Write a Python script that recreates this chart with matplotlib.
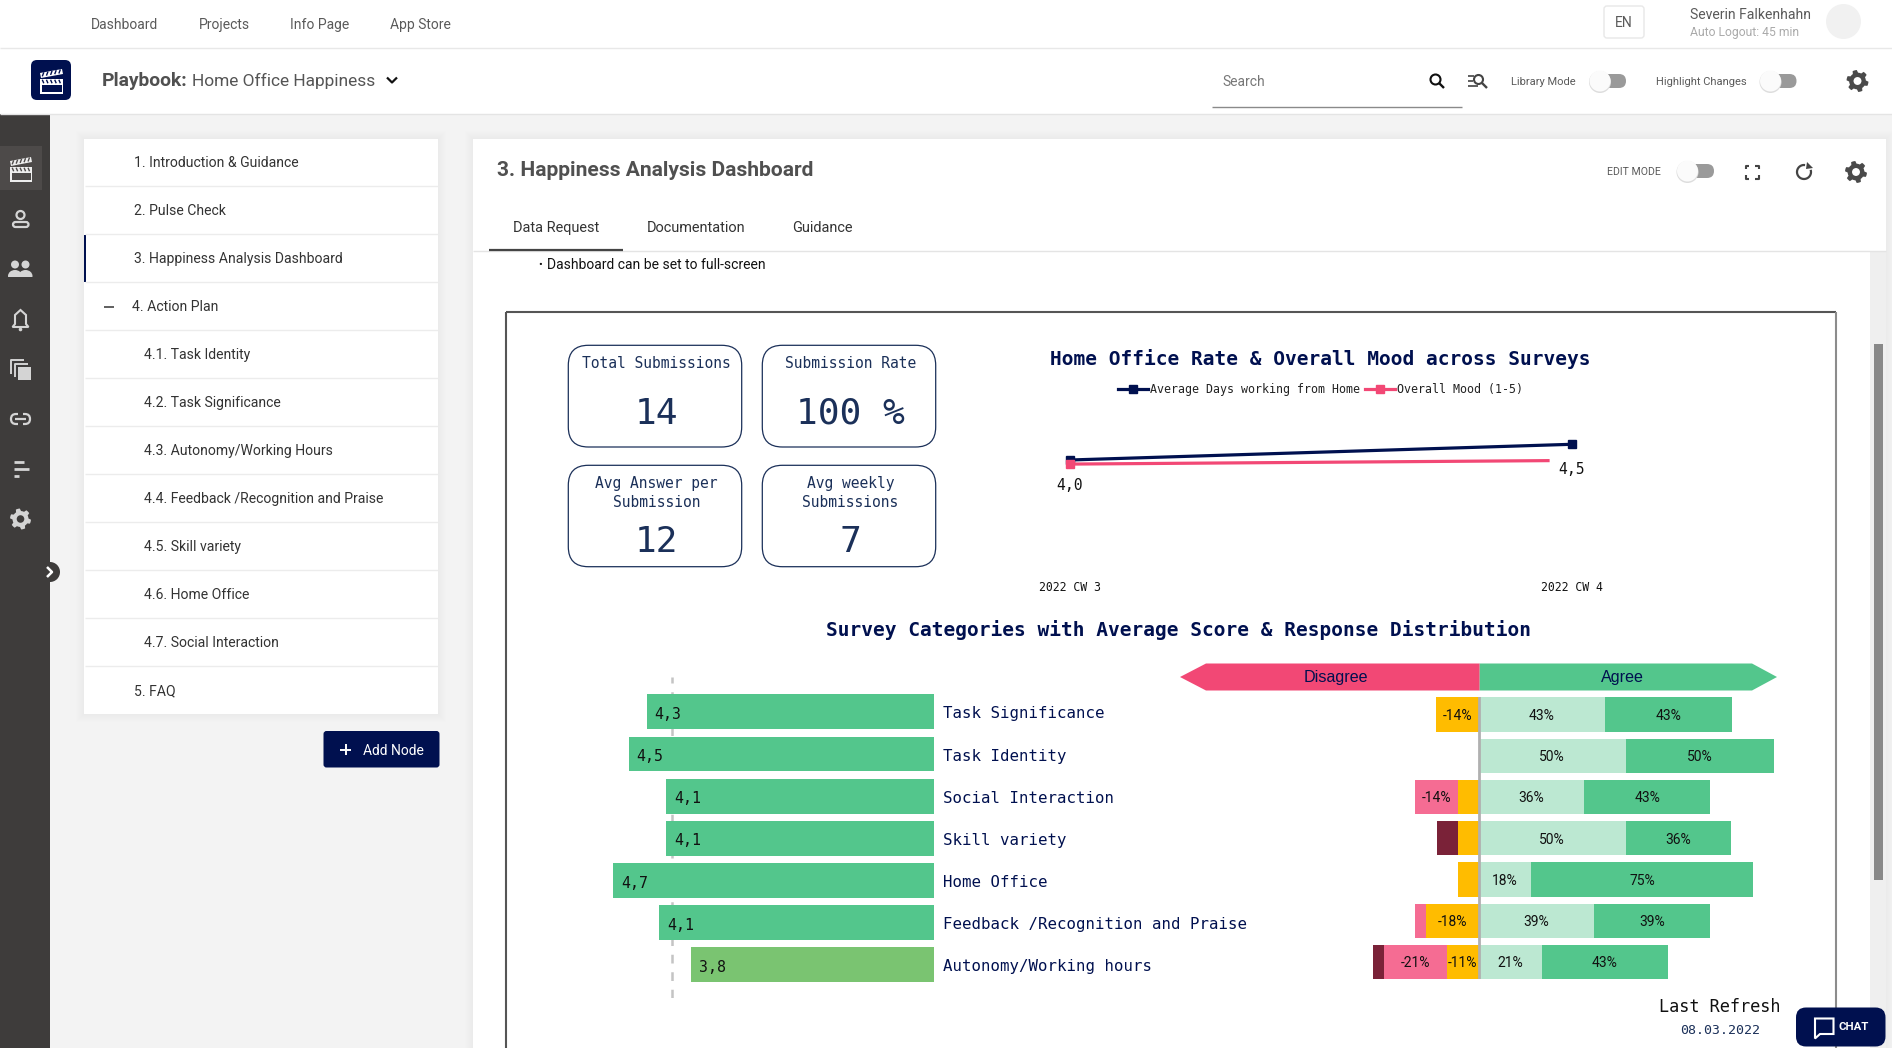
# Home office happiness dashboard, screenshot rebuilt with matplotlib

import numpy as np
import matplotlib
matplotlib.use('Agg')
import matplotlib.pyplot as plt
from matplotlib.patches import Circle, Ellipse, FancyBboxPatch, Polygon, Rectangle
from matplotlib.transforms import ScaledTranslation

# data
nav_items = ['Dashboard', 'Projects', 'Info Page', 'App Store']
tree_items = ['1. Introduction & Guidance', '2. Pulse Check', '3. Happiness Analysis Dashboard',
              '4. Action Plan', '4.1. Task Identity', '4.2. Task Significance',
              '4.3. Autonomy/Working Hours', '4.4. Feedback /Recognition and Praise',
              '4.5. Skill variety', '4.6. Home Office', '4.7. Social Interaction', '5. FAQ']
tab_names = ['Data Request', 'Documentation', 'Guidance']

kpi_titles = ['Total Submissions', 'Submission Rate', 'Avg Answer per\nSubmission', 'Avg weekly\nSubmissions']
kpi_values = ['14', '100 %', '12', '7']

surveys = ['2022 CW 3', '2022 CW 4']
home_x = [0, 1]
home_days = [4.0, 4.5]
home_labels = ['4,0', '4,5']
mood_x = [0, 0.953]
mood_score = [3.87, 3.98]

categories = ['Task Significance', 'Task Identity', 'Social Interaction', 'Skill variety',
              'Home Office', 'Feedback /Recognition and Praise', 'Autonomy/Working hours']
avg_score = [4.31, 4.52, 4.09, 4.09, 4.70, 4.17, 3.80]
avg_labels = ['4,3', '4,5', '4,1', '4,1', '4,7', '4,1', '3,8']
score_target = 4.02

strong_disagree = [0, 0, 0, 7.1, 0, 0, 3.6]
disagree = [0, 0, 14.3, 0, 0, 3.6, 21.4]
neutral = [14.3, 0, 7.1, 7.1, 7.1, 17.9, 10.7]
agree = [42.9, 50, 35.7, 50, 17.9, 39.3, 21.4]
strong_agree = [42.9, 50, 42.9, 35.7, 75, 39.3, 42.9]

# colours
navy = '#00104f'
kpi_navy = '#1b3059'
pink = '#f24875'
green = '#53c68c'
light_green = '#bce8d2'
lime = '#7ac471'
yellow = '#ffbc00'
soft_pink = '#f56c93'
dark_red = '#7a2238'
side_dark = '#3e3c3b'
side_icon = '#d4d4d4'
grey_text = '#5a5a5a'
mono = 'DejaVu Sans Mono'

plt.rcParams['font.family'] = ['Roboto', 'DejaVu Sans']

W = 1892
H = 1048
fig = plt.figure(figsize=(W / 100, H / 100), dpi=100, facecolor='white')

# one axes in screen pixels for everything around the charts
ui = fig.add_axes([0, 0, 1, 1], zorder=0)
ui.set_xlim(0, W)
ui.set_ylim(H, 0)
ui.axis('off')


def px_axes(left, top, right, bottom):
    ax = fig.add_axes([left / W, 1 - bottom / H, (right - left) / W, (bottom - top) / H], zorder=1)
    ax.patch.set_visible(False)
    return ax


def label(x, y, s, size=10, color='#333333', ha='left', **kw):
    ui.text(x, y + 1.2, s, fontsize=size, color=color, ha=ha, va='center', **kw)


def rrect(x0, y0, x1, y1, r=0, **kw):
    kw.setdefault('linewidth', 0)
    ui.add_patch(FancyBboxPatch((x0, y0), x1 - x0, y1 - y0,
                                boxstyle='round,pad=0,rounding_size={0}'.format(r), **kw))


def shadow(x0, y0, x1, y1):
    for i in range(8, 0, -1):
        ui.add_patch(Rectangle((x0 - i, y0 - i), x1 - x0 + 2 * i, y1 - y0 + 2 * i,
                               facecolor='black', alpha=0.0045, linewidth=0))


def line(xs, ys, color, lw=1.0, **kw):
    ui.plot(xs, ys, color=color, linewidth=lw, solid_capstyle=kw.pop('cap', 'butt'), **kw)


def gear(x, y, r, color, hole):
    ang = np.linspace(0, 2 * np.pi, 48, endpoint=False) + np.pi / 48
    rad = np.where((np.arange(48) % 8) < 4, r, r * 0.76)
    ui.add_patch(Polygon(np.c_[x + rad * np.cos(ang), y + rad * np.sin(ang)], facecolor=color, linewidth=0))
    ui.add_patch(Circle((x, y), r * 0.36, facecolor=hole, linewidth=0))


def toggle(thumb_x, track_end, y):
    rrect(thumb_x, y - 7, track_end, y + 7, 7, facecolor='#9a9a9a')
    ui.add_patch(Circle((thumb_x, y + 1), 11, facecolor='#dddddd', linewidth=0))
    ui.add_patch(Circle((thumb_x, y), 10.5, facecolor='#fbfbfb', linewidth=0))


def clapper(x0, y0, x1, y1, color, back):
    h = y1 - y0
    ui.add_patch(Polygon([[x0, y0 + h * 0.16], [x1 - 1, y0], [x1, y0 + h * 0.2], [x0 + 1, y0 + h * 0.36]],
                         facecolor=color, linewidth=0))
    ui.add_patch(Rectangle((x0, y0 + h * 0.4), x1 - x0, h * 0.6, facecolor=color, linewidth=0))
    ui.add_patch(Rectangle((x0 + 1.5, y0 + h * 0.62), x1 - x0 - 3, h * 0.3, facecolor=back, linewidth=0))
    for k in np.arange(0.1, 0.95, 0.18):
        xk = x0 + k * (x1 - x0)
        line([xk, xk + 1.5], [y0 + h * 0.43, y0 + h * 0.57], back, 1.0)
        line([xk, xk + 1.5], [y0 + h * 0.31 - k * h * 0.16, y0 + h * 0.15 - k * h * 0.16], back, 1.0)


def search_icon(x, y, color, r=5):
    ui.add_patch(Circle((x - 1.5, y - 1.5), r, facecolor='none', edgecolor=color, linewidth=1.5))
    line([x + 2, x + 7], [y + 2, y + 7], color, 1.7)


# page background
ui.add_patch(Rectangle((50, 114), W - 50, H - 114, facecolor='#f3f3f3', linewidth=0))
line([0, W], [47.5, 47.5], '#e8e8e8', 1.0)
line([0, W], [113.5, 113.5], '#e4e4e4', 1.0)

# top navigation
for x, s in zip([91.3, 199, 290, 390], nav_items):
    label(x, 24, s, 10, grey_text)
rrect(1604, 6, 1644, 38, 3, facecolor='white', edgecolor='#e8e8e8', linewidth=1)
label(1624, 21.5, 'EN', 10, grey_text, ha='center')
label(1689.5, 13.5, 'Severin Falkenhahn', 10.05, grey_text)
label(1689.5, 31, 'Auto Logout: 45 min', 8.7, '#aaaaaa')
ui.add_patch(Circle((1843.5, 21.5), 17.5, facecolor='#f1f1f1', linewidth=0))

# playbook bar
rrect(31, 60, 71, 100, 6, facecolor=navy)
clapper(40, 69, 63, 94, 'white', navy)
label(101.3, 79.5, 'Playbook:', 13.9, '#505050', fontweight='bold')
label(192, 79.5, 'Home Office Happiness', 12.5, '#555555')
line([387, 392, 397], [77.5, 82.5, 77.5], '#111111', 1.6)
label(1222, 81, 'Search', 10, '#777777')
line([1212, 1462], [106.5, 106.5], '#8a8a8a', 1.0)
search_icon(1437, 81, '#111111')
search_icon(1480, 81, '#444444', 4.5)
for yy, x1 in zip([76, 81, 86], [1474, 1473, 1478]):
    line([1468, x1], [yy, yy], '#444444', 1.2)
label(1511, 81, 'Library Mode', 8, grey_text)
toggle(1600, 1626, 81)
label(1656, 81, 'Highlight Changes', 8, grey_text)
toggle(1770.5, 1796.5, 81)
gear(1857.5, 81, 11, '#4a4a4a', 'white')

# sidebar
ui.add_patch(Rectangle((0, 114), 50, H - 114, facecolor=side_dark, linewidth=0))
ui.add_patch(Rectangle((0, 146), 42, 44, facecolor='#4d4a49', linewidth=0))
clapper(10, 157, 32, 182, '#eeeeee', '#4d4a49')
# person
ui.add_patch(Circle((20.5, 215), 4, facecolor='none', edgecolor=side_icon, linewidth=1.6))
rrect(13, 222, 28.5, 227, 2.5, facecolor='none', edgecolor=side_icon, linewidth=1.6)
# group
for xc in [15, 25.5]:
    ui.add_patch(Circle((xc, 264.5), 4, facecolor=side_icon, linewidth=0))
    ui.add_patch(Ellipse((xc, 276), 14, 12, facecolor=side_icon, linewidth=0))
ui.add_patch(Rectangle((5, 276.5), 30, 8, facecolor=side_dark, linewidth=0))
# bell
ui.add_patch(Polygon([[20.5, 310], [26, 315], [26, 324], [28.5, 327], [12.5, 327], [15, 324], [15, 315]],
                     facecolor='none', edgecolor=side_icon, linewidth=1.5))
ui.add_patch(Circle((20.5, 329.5), 1.8, facecolor=side_icon, linewidth=0))
# copy
line([11, 11, 24], [374, 360, 360], side_icon, 1.4)
line([14.5, 14.5, 28], [377, 363.5, 363.5], side_icon, 1.4)
ui.add_patch(Rectangle((18, 367), 13, 13, facecolor=side_icon, linewidth=0))
# link
rrect(11, 414, 30, 424, 5, facecolor='none', edgecolor=side_icon, linewidth=1.6)
line([15, 26], [419, 419], side_icon, 1.6)
ui.add_patch(Rectangle((18, 412), 5, 4, facecolor=side_dark, linewidth=0))
ui.add_patch(Rectangle((18, 422), 5, 4, facecolor=side_dark, linewidth=0))
# sort lines
for yy, x1 in zip([462, 469, 476], [24, 29, 19]):
    line([14, x1], [yy, yy], side_icon, 2.0)
gear(20.5, 519, 10.5, side_icon, side_dark)
ui.add_patch(Circle((50, 572), 10, facecolor=side_dark, linewidth=0))
line([47, 52, 47], [567, 572, 577], 'white', 1.8)

# tree card
shadow(84, 139, 438, 714)
ui.add_patch(Rectangle((84, 139), 354, 575, facecolor='white', linewidth=0))
for i, s in enumerate(tree_items):
    yc = 162 + 48 * i
    if s.startswith('4.') and s[2] != ' ':
        xt = 143.6
    elif s.startswith('4.'):
        xt = 132.3
    else:
        xt = 134.3
    label(xt, yc, s, 10.08, '#333333')
    if i < len(tree_items) - 1:
        line([85, 438], [yc + 24, yc + 24], '#ececec', 1.0)
ui.add_patch(Rectangle((84, 235), 2.2, 47, facecolor=navy, linewidth=0))
line([104, 114], [307, 307], '#444444', 1.2)

# add node button
rrect(323.5, 731, 439.5, 767.5, 3, facecolor=navy)
line([340, 351], [749.5, 749.5], 'white', 1.4)
line([345.5, 345.5], [744, 755], 'white', 1.4)
label(393, 749.5, 'Add Node', 10, 'white', ha='center')

# main panel
shadow(473, 139, 1886, H + 20)
ui.add_patch(Rectangle((473, 139), 1413, H - 139, facecolor='white', linewidth=0))
ui.add_patch(Rectangle((1870, 252), 16, H - 252, facecolor='#efefef', linewidth=0))
ui.add_patch(Rectangle((1874, 344), 9, 536, facecolor='#888888', linewidth=0))
line([473, 1886], [251, 251], '#e4e4e4', 1.0)
label(497, 169, '3. Happiness Analysis Dashboard', 15.1, '#505050', fontweight='bold')
for x, s in zip([513, 646.7, 792], tab_names):
    label(x, 227, s, 10.45, '#333333')
line([489, 622.5], [249.8, 249.8], '#444444', 1.6)
label(1607, 171, 'EDIT MODE', 7.6, grey_text)
toggle(1687.5, 1714, 171)
for sx, sy in [(-1, -1), (1, -1), (-1, 1), (1, 1)]:
    line([1752 + sx * 6.5, 1752 + sx * 6.5, 1752 + sx * 3], [172 + sy * 3, 172 + sy * 6.5, 172 + sy * 6.5],
         '#444444', 1.5)
theta = np.linspace(-0.1 * np.pi, 1.55 * np.pi, 40)
line(1804 + 7 * np.cos(theta), 172 + 7 * np.sin(theta), '#444444', 1.6)
ui.add_patch(Polygon([[1807, 162], [1813, 168], [1806, 169]], facecolor='#444444', linewidth=0))
gear(1856, 172, 11, '#4a4a4a', 'white')
label(538, 264, '\u2022', 8, '#111111')
label(546.6, 264, 'Dashboard can be set to full-screen', 10, '#111111')

# dashboard frame
line([506, 506], [H, 312], '#555555', 1.5)
line([506, 1835.6], [312, 312], '#555555', 1.5)
line([1835.6, 1835.6], [312, H], '#8c8c8c', 1.5)

# KPI tiles
tile_x = [(568.3, 741.7), (762.3, 935.7), (568.3, 741.7), (762.3, 935.7)]
tile_y = [(345.3, 447), (345.3, 447), (465.3, 566.7), (465.3, 566.7)]
for (x0, x1), (y0, y1), title, value in zip(tile_x, tile_y, kpi_titles, kpi_values):
    rrect(x0, y0, x1, y1, 20, facecolor='white', edgecolor=kpi_navy, linewidth=0.9)
    xc = (x0 + x1) / 2 + 1.5
    if '\n' in title:
        top, bottom = title.split('\n')
        label(xc, y0 + 17, top, 10.5, kpi_navy, ha='center', family=mono)
        label(xc, y0 + 36, bottom, 10.5, kpi_navy, ha='center', family=mono)
        label(xc, y0 + 76, value, 26, kpi_navy, ha='center', family=mono)
    else:
        label(xc, y0 + 17, title, 10.5, kpi_navy, ha='center', family=mono)
        label(xc, y0 + 67, value, 26, kpi_navy, ha='center', family=mono)

# line chart
ax_line = px_axes(1020, 428.6, 1620, 554.2)
ax_line.plot(home_x, home_days, color=navy, lw=2.3, marker='s', ms=6, label='Average Days working from Home')
ax_line.plot(mood_x, mood_score, color=pink, lw=2.3, marker='s', ms=6, markevery=[0], label='Overall Mood (1-5)')
ax_line.set_xlim((1020 - 1069.9) / 501.7, (1620 - 1069.9) / 501.7)
ax_line.set_ylim(1, 5)
ax_line.set_yticks([])
ax_line.set_xticks(home_x)
ax_line.set_xticklabels(surveys, family=mono, fontsize=8.3, color='#111111')
ax_line.tick_params(axis='x', length=0, pad=19.2)
for spine in ax_line.spines.values():
    spine.set_visible(False)
for x, y, s in zip(home_x, home_days, home_labels):
    ax_line.annotate(s, (x, y), xytext=(0, -18), textcoords='offset points', ha='center', va='center',
                     family=mono, fontsize=10.6, color='#111111')
ax_line.legend(loc='center', bbox_to_anchor=(1320.5 / W, 1 - 390 / H), bbox_transform=fig.transFigure,
               ncol=2, frameon=False, numpoints=1, borderpad=0, borderaxespad=0,
               handlelength=2.55, handletextpad=0.17, columnspacing=0.48,
               prop={'family': mono, 'size': 8.35}, labelcolor='#222222')
label(1320.7, 358, 'Home Office Rate & Overall Mood across Surveys', 14, navy, ha='center',
      family=mono, fontweight='bold')

# survey categories
label(1178, 628.6, 'Survey Categories with Average Score & Response Distribution', 14, navy, ha='center',
      family=mono, fontweight='bold')
ui.add_patch(Polygon([[1180, 677], [1206, 663.5], [1479.7, 663.5], [1479.7, 690.5], [1206, 690.5]],
                     facecolor=pink, linewidth=0))
ui.add_patch(Polygon([[1479.7, 663.5], [1752, 663.5], [1777, 677], [1752, 690.5], [1479.7, 690.5]],
                     facecolor=green, linewidth=0))
label(1335.7, 676.5, 'Disagree', 11.6, navy, ha='center', family='Liberation Sans')
label(1622.6, 676.5, 'Agree', 11.6, navy, ha='center', family='Liberation Sans')

# average score bars, scale runs from 1 to 5 towards the left
ax_score = px_axes(600, 677, 933.9, 998)
rows = np.arange(len(categories))
ax_score.axvline(score_target, color='#c4c4c4', lw=1.8, ls=(0, (3.5, 3.5)), zorder=1)
ax_score.barh(rows, np.array(avg_score) - 1, left=1, height=0.83,
              color=[green if v >= 4 else lime for v in avg_score], zorder=2)
ax_score.set_xlim(1 + 333.9 / 86.7, 1)
ax_score.set_ylim((998 - 711.9) / 42.1, (677 - 711.9) / 42.1)
ax_score.set_xticks([])
ax_score.yaxis.tick_right()
ax_score.set_yticks(rows)
ax_score.set_yticklabels(categories, family=mono, fontsize=11.3, color=navy)
ax_score.tick_params(axis='y', length=0, pad=6.8)
nudge = ScaledTranslation(0, -0.6 / 100, fig.dpi_scale_trans)
for tick_text in ax_score.get_yticklabels():
    tick_text.set_transform(tick_text.get_transform() + nudge)
for spine in ax_score.spines.values():
    spine.set_visible(False)
for i, (v, s) in enumerate(zip(avg_score, avg_labels)):
    ax_score.annotate(s, (v, i), xytext=(5.6, -2), textcoords='offset points', ha='left', va='center',
                      family=mono, fontsize=10.7, color='#111111', zorder=3)

# response distribution, diverging around zero
ax_dist = px_axes(1360, 697, 1790, 979)
rows2 = np.arange(len(categories))


def dist_labels(values, sign=''):
    return [sign + '{0:.0f}%'.format(v) if v >= 10 else '' for v in values]


neutral_arr = np.array(neutral)
disagree_arr = np.array(disagree)
strong_dis_arr = np.array(strong_disagree)
agree_arr = np.array(agree)
bar_h = 0.833
series = [
    (-neutral_arr, 0, yellow, dist_labels(neutral, '-')),
    (-disagree_arr, -neutral_arr, soft_pink, dist_labels(disagree, '-')),
    (-strong_dis_arr, -neutral_arr - disagree_arr, dark_red, dist_labels(strong_disagree, '-')),
    (agree_arr, 0, light_green, dist_labels(agree)),
    (np.array(strong_agree), agree_arr, green, dist_labels(strong_agree)),
]
for widths, lefts, colour, texts in series:
    bars = ax_dist.barh(rows2, widths, left=lefts, height=bar_h, color=colour, zorder=2)
    for t in ax_dist.bar_label(bars, labels=texts, label_type='center', fontsize=10, color='#111111'):
        t.xyann = (0, -1)
ax_dist.axvline(0, color='#b0b0b0', lw=2, zorder=3)
ax_dist.set_xlim((1360 - 1478.5) / 2.95, (1790 - 1478.5) / 2.95)
ax_dist.set_ylim((979 - 714.5) / 41.25, (697 - 714.5) / 41.25)
ax_dist.axis('off')

# refresh stamp
label(1720, 1006, 'Last Refresh', 12.2, '#111111', ha='center', family=mono)
label(1720, 1029, '08.03.2022', 9.5, kpi_navy, ha='center', family=mono)

# chat button
rrect(1796, 1007.5, 1885.5, 1046.5, 10, facecolor=navy, zorder=5)
ui.add_patch(Polygon([[1815, 1018.5], [1833.5, 1018.5], [1833.5, 1034], [1820, 1034], [1815, 1038.5]],
                     facecolor='none', edgecolor='white', linewidth=1.5, zorder=6))
ui.text(1854, 1027, 'CHAT', fontsize=8.2, color='white', fontweight='bold', ha='center', va='center', zorder=7)

fig_filename = 'out.png'
fig.savefig(fig_filename, dpi=100)
print('done {0}'.format(fig_filename))
